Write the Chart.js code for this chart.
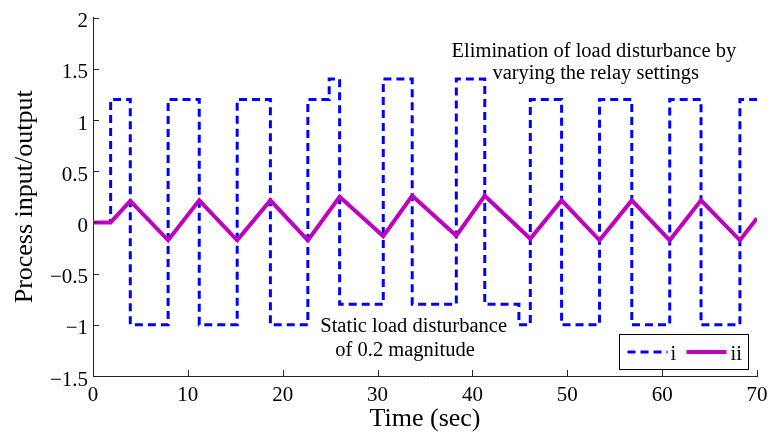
<!DOCTYPE html>
<html>
<head>
<meta charset="utf-8">
<script src="https://cdn.jsdelivr.net/npm/chart.js@4.4.1/dist/chart.umd.min.js"></script>
<style>
  html, body { margin: 0; padding: 0; background: #fff; }
  #wrap { width: 775px; height: 432px; }
</style>
</head>
<body>
<div id="wrap"><canvas id="chartRelay" width="775" height="432"></canvas></div>
<script>
// relay output (i): switching instants and the level that starts there
const relayTimes = [0, 1.86, 3.93, 7.92, 11.2, 15.2, 18.7, 22.65, 24.9, 26.0, 30.6, 33.65, 38.3, 41.3, 44.9, 46.1, 49.4, 53.4, 56.8, 60.8, 64.1, 68.2, 70];
const relayLevels = [0, 1.2, -1, 1.2, -1, 1.2, -1, 1.2, 1.4, -0.8, 1.4, -0.8, 1.4, -0.8, -1.0, 1.2, -1, 1.2, -1, 1.2, -1, 1.2, 1.2];

// process output (ii): corner points of the triangle wave
const outTimes = [0, 1.86, 3.93, 7.92, 11.2, 15.2, 18.7, 22.65, 26.0, 30.6, 33.65, 38.3, 41.3, 46.1, 49.4, 53.4, 56.8, 60.8, 64.1, 68.2, 70];
const outValues = [0, 0, 0.21, -0.175, 0.215, -0.175, 0.215, -0.175, 0.25, -0.135, 0.26, -0.13, 0.26, -0.16, 0.215, -0.175, 0.215, -0.175, 0.215, -0.175, 0.04];

const xTicks = [0, 10, 20, 30, 40, 50, 60, 70];
const yTicks = [-1.5, -1, -0.5, 0, 0.5, 1, 1.5, 2];
const seriesNames = ['i', 'ii'];

const serif = '"Liberation Serif", "Times New Roman", serif';
const axisColor = '#262626';

const toPoints = (xs, ys) => xs.map((x, k) => ({ x: x, y: ys[k] }));
const fmt = v => (v < 0 ? '\u2212' + Math.abs(v) : String(v));

// annotations, inner tick marks and the small legend box
const overlay = {
    id: 'overlay',
    afterDraw(chart) {
        const ctx = chart.ctx;
        const xs = chart.scales.x, ys = chart.scales.y;
        const area = chart.chartArea;
        ctx.save();

        // MATLAB style ticks pointing into the plot
        ctx.strokeStyle = axisColor;
        ctx.lineWidth = 1;
        ctx.beginPath();
        xTicks.forEach(t => {
            const px = Math.round(xs.getPixelForValue(t)) + 0.5;
            ctx.moveTo(px, area.bottom);
            ctx.lineTo(px, area.bottom - 6);
        });
        yTicks.forEach(v => {
            const py = Math.round(ys.getPixelForValue(v)) + 0.5;
            ctx.moveTo(area.left, py);
            ctx.lineTo(area.left + 6, py);
        });
        ctx.stroke();

        // text notes
        ctx.fillStyle = '#000';
        ctx.font = '20.5px ' + serif;
        ctx.textAlign = 'center';
        ctx.textBaseline = 'alphabetic';
        const note = (x, y, txt) => ctx.fillText(txt, xs.getPixelForValue(x), ys.getPixelForValue(y));
        note(52.8, 1.615, 'Elimination of load disturbance by');
        note(53.0, 1.40, 'varying the relay settings');
        note(33.8, -1.07, 'Static load disturbance');
        note(32.9, -1.30, 'of 0.2 magnitude');

        // legend
        const bx = 619.5, by = 334.5, bw = 129, bh = 35;
        ctx.fillStyle = '#fff';
        ctx.fillRect(bx, by, bw, bh);
        ctx.strokeStyle = '#000';
        ctx.lineWidth = 1;
        ctx.strokeRect(bx, by, bw, bh);
        const ly = by + 17.5;
        const items = [
            { ds: chart.data.datasets[0], x0: bx + 8, x1: bx + 48, tx: bx + 51 },
            { ds: chart.data.datasets[1], x0: bx + 67, x1: bx + 107, tx: bx + 111 }
        ];
        items.forEach(it => {
            ctx.save();
            ctx.strokeStyle = it.ds.borderColor;
            ctx.lineWidth = it.ds.borderWidth;
            ctx.setLineDash(it.ds.borderDash || []);
            ctx.beginPath();
            ctx.moveTo(it.x0, ly);
            ctx.lineTo(it.x1, ly);
            ctx.stroke();
            ctx.restore();
            ctx.fillStyle = '#000';
            ctx.font = '20.5px ' + serif;
            ctx.textAlign = 'left';
            ctx.fillText(it.ds.label, it.tx, by + 25);
        });
        ctx.restore();
    }
};

new Chart(document.getElementById('chartRelay'), {
    type: 'line',
    data: {
        datasets: [
            {
                label: seriesNames[0],
                data: toPoints(relayTimes, relayLevels),
                borderColor: '#0000FF', borderWidth: 3, borderDash: [8, 5],
                stepped: 'before', pointRadius: 0, fill: false, order: 2
            },
            {
                label: seriesNames[1],
                data: toPoints(outTimes, outValues),
                borderColor: '#BF00BF', borderWidth: 4,
                borderJoinStyle: 'miter', tension: 0, pointRadius: 0, fill: false, order: 1
            }
        ]
    },
    options: {
        responsive: false, animation: false,
        layout: { padding: { top: 17, right: 18, left: 0, bottom: 0 } },
        plugins: { legend: { display: false }, tooltip: { enabled: false } },
        scales: {
            x: {
                type: 'linear', min: 0, max: 70,
                afterFit: s => { s.height = 56; },
                afterBuildTicks: s => { s.ticks = xTicks.map(v => ({ value: v })); },
                grid: { display: false, drawTicks: false },
                border: { display: true, color: axisColor, width: 1 },
                ticks: {
                    color: '#000', font: { family: serif, size: 21 }, padding: 7,
                    maxRotation: 0, autoSkip: false, callback: fmt
                },
                title: {
                    display: true, text: 'Time (sec)', color: '#000',
                    font: { family: serif, size: 26, lineHeight: 1.0 }, padding: { top: 0, bottom: 0 }
                }
            },
            y: {
                type: 'linear', min: -1.5, max: 2,
                afterFit: s => { s.width = 93; },
                afterBuildTicks: s => { s.ticks = yTicks.map(v => ({ value: v })); },
                grid: { display: false, drawTicks: false },
                border: { display: true, color: axisColor, width: 1 },
                ticks: {
                    color: '#000', font: { family: serif, size: 21 }, padding: 5,
                    labelOffset: 4, autoSkip: false, callback: fmt
                },
                title: {
                    display: true, text: 'Process input/output', color: '#000',
                    font: { family: serif, size: 26 }, padding: { top: 10, bottom: 0 }
                }
            }
        }
    },
    plugins: [overlay]
});
</script>
</body>
</html>
